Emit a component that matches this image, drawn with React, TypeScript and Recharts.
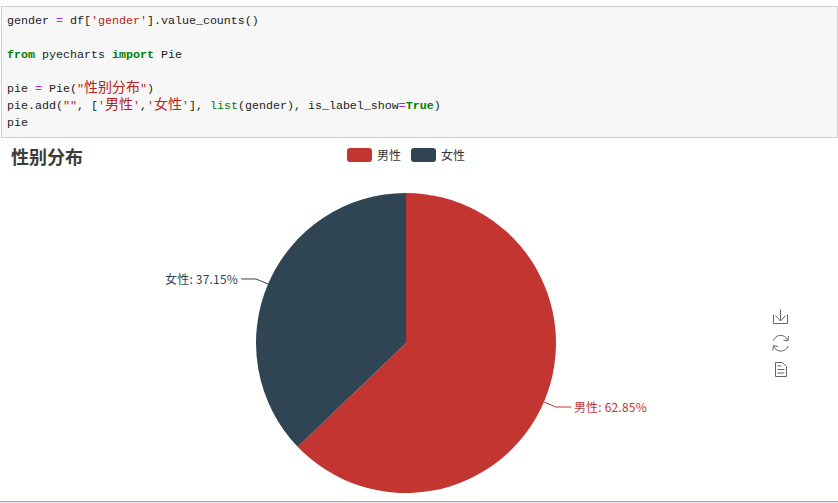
import { Legend, Pie, PieChart } from "recharts";

const categories = ["男性", "女性"];
const shares = [62.85, 37.15];
const colors = ["#c23531", "#2f4554"];
const chartTitle = "性别分布";

const pieData = categories.map((name, i) => ({ name, value: shares[i], fill: colors[i] }));

const KW = "#008000";
const STR = "#ba2121";
const OP = "#aa22ff";

// one entry per line of the notebook cell: [text, colour, bold]
type Tok = [string, string?, boolean?];
const codeLines: Tok[][] = [
  [["gender "], ["=", OP], [" df["], ["'gender'", STR], ["].value_counts()"]],
  [],
  [["from", KW, true], [" pyecharts "], ["import", KW, true], [" Pie"]],
  [],
  [["pie "], ["=", OP], [" Pie("], ["\"", STR], ["性别分布", STR], ["\"", STR], [")"]],
  [["pie.add("], ["\"\"", STR], [", ["], ["'", STR], ["男性", STR], ["'", STR], [","], ["'", STR], ["女性", STR], ["'", STR], ["], "], ["list", KW], ["(gender), is_label_show"], ["=", OP], ["True", KW, true], [")"]],
  [["pie"]],
];

function CodeCell() {
  return (
    <div
      style={{
        position: "absolute",
        left: 1,
        top: 6,
        width: 835,
        height: 130,
        background: "#f7f7f7",
        border: "1px solid #cfcfcf",
        fontFamily: "'Liberation Mono', 'Noto Sans CJK SC', monospace",
        fontSize: 11.67,
        color: "#222",
      }}
    >
      {codeLines.map((line, i) => (
        <div
          key={i}
          style={{ position: "absolute", left: 5, top: 6 + i * 17, height: 17, lineHeight: "17px", whiteSpace: "pre" }}
        >
          {line.map(([text, color, bold], j) => {
            const cjk = /[\u4e00-\u9fff]/.test(text);
            return (
              <span
                key={j}
                style={{
                  color: color,
                  fontWeight: bold ? 700 : 400,
                  fontSize: cjk ? 14 : undefined,
                  lineHeight: cjk ? 0 : undefined,
                }}
              >
                {text}
              </span>
            );
          })}
        </div>
      ))}
    </div>
  );
}

function renderLabel(props: any) {
  const { cx, cy, midAngle, outerRadius, name, value, fill } = props;
  const rad = (-midAngle * Math.PI) / 180;
  const side = Math.cos(rad) >= 0 ? 1 : -1;
  const x0 = cx + outerRadius * Math.cos(rad);
  const y0 = cy + outerRadius * Math.sin(rad);
  const x1 = cx + (outerRadius + 13) * Math.cos(rad);
  const y1 = cy + (outerRadius + 13) * Math.sin(rad);
  const x2 = x1 + side * 15;
  return (
    <g>
      <polyline points={`${x0},${y0} ${x1},${y1} ${x2},${y1}`} fill="none" stroke={fill} strokeWidth={1} />
      <text
        x={x2 + side * 3}
        y={y1 - 0.5}
        fill={fill}
        textAnchor={side > 0 ? "start" : "end"}
        dominantBaseline="central"
        fontSize={12}
        letterSpacing={0.2}
        fontFamily="'Noto Sans CJK SC', sans-serif"
      >
        {`${name}: ${value.toFixed(2)}%`}
      </text>
    </g>
  );
}

function LegendRow({ payload }: any) {
  return (
    <div style={{ display: "flex", fontFamily: "'Noto Sans CJK SC', sans-serif", fontSize: 12, color: "#333" }}>
      {(payload || []).map((p: any) => (
        <div key={p.value} style={{ display: "flex", alignItems: "center", width: 64 }}>
          <span style={{ width: 25, height: 14, borderRadius: 3, background: p.color, marginRight: 5 }} />
          <span style={{ lineHeight: "14px" }}>{p.value}</span>
        </div>
      ))}
    </div>
  );
}

function Toolbox() {
  return (
    <svg width={30} height={80} style={{ position: "absolute", left: 766, top: 305 }} fill="none" stroke="#666" strokeWidth={1}>
      <path d="M14.5 4.5 V16 M9.5 10.5 L14.5 16 L19.5 10.5 M7.5 9.5 V18.5 H21.5 V9.5" />
      <path d="M7.5 35.5 A7.5 7.5 0 0 1 21.5 35 M22 41 A7.5 7.5 0 0 1 8 41.5" />
      <path d="M22.5 31 L21.8 36 L17.5 35 M6.8 45.5 L7.5 40.5 L12 41.5" />
      <path d="M9.5 57.5 H16.5 L20.5 61.5 V71.5 H9.5 Z M11.5 61 H15.5 M11.5 64.5 H18.5 M11.5 68 H18.5" />
    </svg>
  );
}

export default function App() {
  return (
    <div style={{ position: "absolute", left: 0, top: 0, width: 838, height: 503, background: "#fff", overflow: "hidden" }}>
      <CodeCell />
      <div
        style={{
          position: "absolute",
          left: 11,
          top: 143,
          height: 26,
          lineHeight: "26px",
          fontFamily: "'Noto Sans CJK SC', sans-serif",
          fontWeight: 700,
          fontSize: 18,
          color: "#3c3c3c",
        }}
      >
        {chartTitle}
      </div>
      <div style={{ position: "absolute", left: 0, top: 0 }}>
        <PieChart width={838} height={503} margin={{ top: 0, right: 0, bottom: 0, left: 0 }}>
          <Legend
            content={<LegendRow />}
            itemSorter={null}
            wrapperStyle={{ position: "absolute", left: 347, top: 148, width: 140, height: 14 }}
          />
          <Pie
            data={pieData}
            dataKey="value"
            nameKey="name"
            cx={406}
            cy={343}
            innerRadius={0}
            outerRadius={150}
            startAngle={90}
            endAngle={-270}
            stroke="none"
            label={renderLabel}
            labelLine={false}
            isAnimationActive={false}
          />
        </PieChart>
      </div>
      <Toolbox />
      <div style={{ position: "absolute", left: 0, top: 501, width: 838, height: 1, background: "#a5a5b8" }} />
      <div style={{ position: "absolute", left: 0, top: 502, width: 838, height: 1, background: "#e6e8ef" }} />
    </div>
  );
}
